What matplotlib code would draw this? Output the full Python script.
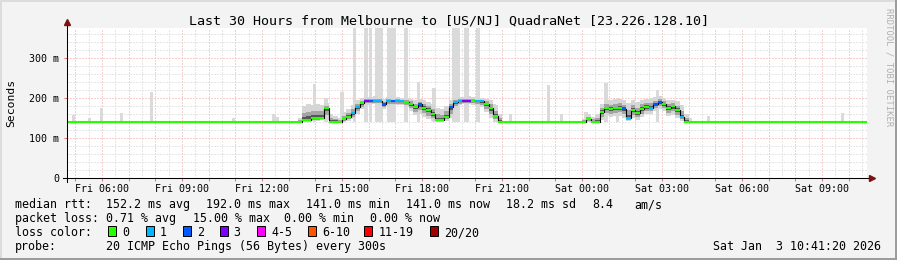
import matplotlib
matplotlib.use('Agg')
import matplotlib.pyplot as plt
from matplotlib.patches import Rectangle
import numpy as np

W, H = 897, 260
MONO = 'DejaVu Sans Mono'

title = "Last 30 Hours from Melbourne to [US/NJ] QuadraNet [23.226.128.10]"

# median rtt per sample (ms), loss count out of 20 pings, smoke extent (ms)
rtt_times = [
    "Fri 04:41",
    "Fri 13:20", "Fri 13:30", "Fri 13:40", "Fri 13:50", "Fri 14:00", "Fri 14:10", "Fri 14:20", "Fri 14:30", "Fri 14:40", "Fri 14:50",
    "Fri 15:00", "Fri 15:10", "Fri 15:20", "Fri 15:30", "Fri 15:40", "Fri 15:50", "Fri 16:00", "Fri 16:10", "Fri 16:20", "Fri 16:30",
    "Fri 16:40", "Fri 16:50", "Fri 17:00", "Fri 17:10", "Fri 17:20", "Fri 17:30", "Fri 17:40", "Fri 17:50", "Fri 18:00", "Fri 18:10",
    "Fri 18:20", "Fri 18:30", "Fri 18:40", "Fri 18:50", "Fri 19:00", "Fri 19:10", "Fri 19:20", "Fri 19:30", "Fri 19:40", "Fri 19:50",
    "Fri 20:00", "Fri 20:10", "Fri 20:20", "Fri 20:30", "Fri 20:40", "Fri 20:50", "Fri 21:00",
    "Sat 00:00", "Sat 00:10", "Sat 00:20", "Sat 00:30", "Sat 00:40", "Sat 00:50", "Sat 01:00", "Sat 01:10", "Sat 01:20", "Sat 01:30",
    "Sat 01:40", "Sat 01:50", "Sat 02:00", "Sat 02:10", "Sat 02:20", "Sat 02:30", "Sat 02:40", "Sat 02:50", "Sat 03:00", "Sat 03:10",
    "Sat 03:20", "Sat 03:30", "Sat 03:40", "Sat 03:50", "Sat 04:00",
]
median_rtt = [
    141,
    141, 146, 146, 151, 151, 151, 174, 141, 141, 141,
    147, 153, 162, 178, 187, 193, 192, 192, 192, 184,
    192, 192, 192, 192, 190, 185, 178, 184, 176, 170,
    159, 145, 145, 153, 178, 190, 192, 193, 193, 192,
    192, 192, 186, 174, 155, 141, 141,
    141, 147, 141, 141, 165, 174, 172, 174, 176, 172,
    151, 170, 162, 172, 178, 176, 184, 189, 184, 175,
    179, 170, 152, 141, 141,
]
loss_count = [
    0,
    0, 0, 0, 0, 0, 0, 0, 0, 0, 0,
    0, 0, 1, 1, 0, 3, 2, 1, 1, 2,
    1, 2, 1, 1, 0, 0, 0, 2, 0, 0,
    0, 0, 0, 0, 2, 1, 1, 3, 3, 0,
    1, 1, 0, 0, 0, 0, 0,
    0, 0, 0, 0, 0, 0, 0, 0, 0, 2,
    1, 0, 0, 0, 0, 1, 2, 2, 0, 0,
    0, 0, 1, 0, 0,
]
smoke_lo = [
    141,
    141, 141, 141, 143, 143, 144, 145, 141, 141, 141,
    141, 143, 148, 160, 172, 182, 184, 185, 183, 172,
    180, 182, 182, 182, 178, 168, 158, 160, 152, 147,
    143, 141, 141, 142, 150, 172, 182, 185, 185, 183,
    182, 178, 165, 150, 141, 141, 141,
    141, 141, 141, 141, 145, 155, 152, 155, 156, 150,
    143, 150, 146, 152, 160, 160, 168, 172, 168, 156,
    158, 150, 143, 141, 141,
]
smoke_hi = [
    142,
    150, 180, 185, 182, 185, 183, 188, 160, 155, 150,
    165, 172, 182, 194, 200, 203, 202, 204, 201, 198,
    203, 200, 202, 200, 200, 198, 194, 197, 194, 190,
    184, 175, 172, 180, 194, 200, 203, 202, 204, 202,
    200, 200, 198, 194, 182, 160, 143,
    148, 160, 152, 160, 185, 196, 194, 197, 198, 195,
    188, 194, 190, 196, 198, 200, 202, 204, 200, 196,
    196, 192, 182, 160, 142,
]

# single pings far above the median
spike_times = [
    "Fri 04:55", "Fri 05:31", "Fri 05:58", "Fri 06:43", "Fri 07:52", "Fri 10:55", "Fri 12:27", "Fri 12:34",
    "Fri 13:59", "Fri 14:24", "Fri 15:00", "Fri 15:29", "Fri 15:52", "Fri 15:56", "Fri 16:05", "Fri 16:17",
    "Fri 16:21", "Fri 16:28", "Fri 16:44", "Fri 16:48", "Fri 16:52", "Fri 16:59", "Fri 17:24", "Fri 17:53",
    "Fri 18:27", "Fri 19:12", "Fri 19:21", "Fri 19:37", "Fri 19:43", "Fri 20:04", "Fri 20:08", "Fri 20:44",
    "Fri 21:20", "Fri 22:44", "Fri 23:13", "Sat 00:09", "Sat 00:54", "Sat 01:19", "Sat 02:49", "Sat 04:05",
    "Sat 04:44", "Sat 09:47",
]
spike_tops = [
    157, 150, 175, 162, 215, 150, 160, 152,
    235, 200, 215, 400, 400, 400, 400, 400,
    400, 400, 400, 400, 400, 400, 400, 240,
    225, 400, 400, 400, 400, 400, 400, 185,
    160, 232, 160, 165, 238, 200, 220, 150,
    155, 162,
]

tick_labels = ["Fri 06:00", "Fri 09:00", "Fri 12:00", "Fri 15:00", "Fri 18:00", "Fri 21:00",
               "Sat 00:00", "Sat 03:00", "Sat 06:00", "Sat 09:00"]

loss_colors = {0: '#26ff00', 1: '#00b8ff', 2: '#0059ff', 3: '#7e00ff'}
loss_labels = ["0", "1", "2", "3", "4-5", "6-10", "11-19", "20/20"]
loss_swatch = ['#26ff00', '#00b8ff', '#0059ff', '#7e00ff', '#ff00ff', '#ff5500', '#ff0000', '#a10000']

rtt_stats = ["152.2 ms avg", "192.0 ms max", "141.0 ms min", "141.0 ms now", "18.2 ms sd", "8.4", "am/s"]
loss_stats = ["0.71 % avg", "15.00 % max", "0.00 % min", "0.00 % now"]
probe_text = "20 ICMP Echo Pings (56 Bytes) every 300s"
stamp = "Sat Jan  3 10:41:20 2026"


def hrs(s):
    day, hm = s.split()
    h, m = hm.split(':')
    return (24 if day == 'Sat' else 0) + int(h) + int(m) / 60


def fx(px):
    return px / W


def fy(py):
    return 1 - py / H


t = np.array([hrs(s) for s in rtt_times])
t_start = hrs("Fri 04:41") + 20 / 3600
t_end = hrs("Sat 10:41") + 20 / 3600
t_e = np.append(t, t_end)
med = np.array(median_rtt, float)
lo = np.array(smoke_lo, float)
hi = np.array(smoke_hi, float)
med_e, lo_e, hi_e = (np.append(a, a[-1]) for a in (med, lo, hi))

fig = plt.figure(figsize=(W / 100, H / 100), dpi=100, facecolor='#f3f3f3')
ax = fig.add_axes([fx(67), fy(178), 800 / W, 150 / H])
ax.set_facecolor('white')
ax.set_xlim(t_start, t_end)
ax.set_ylim(0, 375)
for s in ax.spines.values():
    s.set_visible(False)

# grid, rrdtool style
dots = (0, (1, 2))
hours = np.arange(5, 35)
ax.vlines(hours + 0.5, 0, 375, colors='#cfcfcf', lw=0.72, linestyles=dots, zorder=0)
ax.vlines(hours, 0, 375, colors='#f0a0a0', lw=0.72, linestyles=dots, zorder=0)
minor_y = [v for v in range(20, 375, 20) if v % 100]
ax.hlines(minor_y, t_start, t_end, colors='#cfcfcf', lw=0.72, linestyles=dots, zorder=0)
ax.hlines([100, 200, 300], t_start, t_end, colors='#f0a0a0', lw=0.72, linestyles=dots, zorder=0)

# smoke
sp_t = np.array([hrs(s) for s in spike_times])
ax.bar(sp_t, np.array(spike_tops) - 141, bottom=141, width=7 / 60, color='#dadada', lw=0, zorder=1)
ax.fill_between(t_e, lo_e, hi_e, step='post', color='#d6d6d6', lw=0, zorder=2)
ax.fill_between(t_e, med_e - 0.6 * (med_e - lo_e), med_e + 0.5 * (hi_e - med_e),
                step='post', color='#a4a4a4', lw=0, zorder=2)
ax.fill_between(t_e, med_e - 0.25 * (med_e - lo_e), med_e + 0.2 * (hi_e - med_e),
                step='post', color='#555555', lw=0, zorder=2)

# median line coloured by loss
ax.step(t_e, med_e, where='post', color='black', lw=0.8, zorder=3)
ax.hlines(med, t, t_e[1:], colors=[loss_colors[k] for k in loss_count], lw=1.5, zorder=4)

# axes with arrows
ax.plot([-4 / 800, 1 + 4 / 800], [0, 0], transform=ax.transAxes, color='black', lw=0.75, clip_on=False, zorder=5)
ax.plot([0, 0], [-4 / 150, 1 + 5 / 150], transform=ax.transAxes, color='black', lw=0.75, clip_on=False, zorder=5)
ax.plot([1 + 5 / 800], [0], marker='>', ms=4.5, color='#7f1010', transform=ax.transAxes, clip_on=False, zorder=6)
ax.plot([0], [1 + 6 / 150], marker='^', ms=4.5, color='#7f1010', transform=ax.transAxes, clip_on=False, zorder=6)

ax.set_xticks([hrs(s) for s in tick_labels], labels=tick_labels)
ax.set_xticks(hours, minor=True)
ax.tick_params(axis='x', which='both', length=2, width=0.7, color='#e07070', pad=2.5,
               labelsize=7.2, labelfontfamily=MONO)
ax.set_yticks([0, 100, 200, 300], labels=["0", "100 m", "200 m", "300 m"])
ax.tick_params(axis='y', length=2, width=0.7, color='#e07070', pad=3.5, labelsize=7.2, labelfontfamily=MONO)

# texts
fig.text(0.5, fy(24), title, ha='center', va='baseline', fontsize=9.6, family=MONO)
fig.text(fx(11), fy(103), "Seconds", rotation=90, ha='center', va='center', fontsize=8.2, family=MONO)
fig.text(fx(889), fy(67), "RRDTOOL / TOBI OETIKER", rotation=270, ha='center', va='center',
         fontsize=6.4, family=MONO, color='#b0b0b0')

kw = dict(ha='left', va='baseline', fontsize=8.4, family=MONO)
fig.text(fx(15), fy(208), "median rtt:", **kw)
for x, s in zip([106, 206, 306, 406, 506, 592, 634], rtt_stats):
    fig.text(fx(x), fy(208), s, **kw)
fig.text(fx(15), fy(222), "packet loss:", **kw)
for x, s in zip([106, 193, 284, 370], loss_stats):
    fig.text(fx(x), fy(222), s, **kw)
fig.text(fx(15), fy(236), "loss color:", **kw)
for x, s, c in zip([108, 145.7, 182.7, 219.7, 257, 308, 364.3, 430], loss_labels, loss_swatch):
    fig.add_artist(Rectangle((fx(x), fy(236)), 8 / W, 10 / H, transform=fig.transFigure,
                             facecolor=c, edgecolor='black', lw=0.7))
    fig.text(fx(x + 14), fy(236), s, **kw)
fig.text(fx(15), fy(250), "probe:", **kw)
fig.text(fx(106), fy(250), probe_text, **kw)
fig.text(fx(881), fy(250), stamp, ha='right', va='baseline', fontsize=8.4, family=MONO)

# 3d frame
fig.add_artist(Rectangle((0, 0), 1, 2 / H, transform=fig.transFigure, color='#9c9c9c', lw=0))
fig.add_artist(Rectangle((1 - 2 / W, 0), 2 / W, 1, transform=fig.transFigure, color='#9c9c9c', lw=0))
fig.add_artist(Rectangle((0, 1 - 2 / H), 1 - 2 / W, 2 / H, transform=fig.transFigure, color='#dcdcdc', lw=0))
fig.add_artist(Rectangle((0, 2 / H), 2 / W, 1, transform=fig.transFigure, color='#dcdcdc', lw=0))

fig.savefig('out.png', dpi=100, facecolor=fig.get_facecolor())
